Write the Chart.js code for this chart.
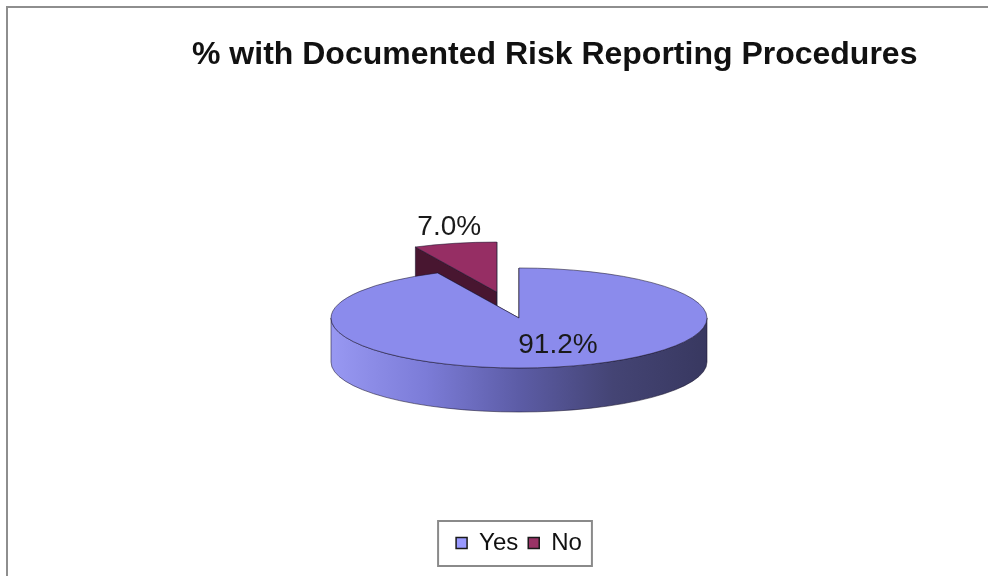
<!DOCTYPE html>
<html><head><meta charset="utf-8">
<script src="https://cdn.jsdelivr.net/npm/chart.js@4.4.1/dist/chart.umd.min.js"></script>
<style>
html,body{margin:0;padding:0;background:#fff;overflow:hidden;}
#wrap{position:relative;width:988px;height:576px;overflow:hidden;}
#frame{position:absolute;left:6px;top:6px;width:1200px;height:800px;border:2px solid #8e8e8e;box-sizing:border-box;}
canvas{position:absolute;left:0;top:0;}
</style></head><body>
<div id="wrap"><div id="frame"></div><canvas id="c" width="988" height="576"></canvas></div>
<script>
// ---- data ----
const TITLE = '% with Documented Risk Reporting Procedures';
const categories = ['Yes', 'No'];
const percentValues = [91.2, 7.0];
const explodeBy = [0, 100];

// ---- styles ----
const LEGEND_COLORS = ['#9999FF', '#993366'];
const SHADES = [
  {top: 'rgb(139,139,236)', face: 'rgb(60,60,120)',
   wall: ['rgb(152,152,242)', 'rgb(124,124,216)', 'rgb(92,92,166)', 'rgb(68,68,116)', 'rgb(56,56,96)']},
  {top: 'rgb(150,46,100)', face: 'rgb(72,22,48)',
   wall: ['rgb(160,60,110)', 'rgb(120,40,80)', 'rgb(90,28,60)', 'rgb(70,20,46)', 'rgb(60,18,40)']}
];
const TILT = 0.266;
const DEPTH = 44;
const LABEL_RADIUS = [0.55, 1.33];
const LABEL_NUDGE = [16, 8];
const FONT = '"Liberation Sans", Arial, sans-serif';

function frontRanges(s, e) {
  const out = [];
  for (let n = -2; n <= 2; n++) {
    const a = Math.max(s, n * 2 * Math.PI), b = Math.min(e, n * 2 * Math.PI + Math.PI);
    if (b > a) out.push([a, b]);
  }
  return out;
}

function geom(arc) {
  const p = arc.getProps(['x', 'y', 'startAngle', 'endAngle', 'outerRadius'], true);
  const off = arc.options.offset || 0;
  const mid = (p.startAngle + p.endAngle) / 2;
  return {s: p.startAngle, e: p.endAngle, r: p.outerRadius, mid,
    cx: p.x + Math.cos(mid) * off, cy: p.y + Math.sin(mid) * off * TILT};
}

const pie3d = {
  id: 'pie3d',
  beforeDatasetsDraw(chart) {
    const ctx = chart.ctx;
    const items = chart.getDatasetMeta(0).data.map((arc, i) => ({arc, i, g: geom(arc)}));
    items.sort((p, q) => Math.sin(p.g.mid) - Math.sin(q.g.mid));
    for (const {i, g} of items) {
      const {s, e, r, cx, cy} = g;
      const ry = r * TILT;
      const sh = SHADES[i];
      ctx.save();
      ctx.lineWidth = 1;
      ctx.lineJoin = 'round';
      ctx.strokeStyle = 'rgba(25,20,45,0.55)';
      const grad = ctx.createLinearGradient(cx - r, 0, cx + r, 0);
      sh.wall.forEach((c, j) => grad.addColorStop(j / (sh.wall.length - 1), c));
      for (const [a, b] of frontRanges(s, e)) {
        ctx.beginPath();
        ctx.ellipse(cx, cy, r, ry, 0, a, b);
        ctx.ellipse(cx, cy + DEPTH, r, ry, 0, b, a, true);
        ctx.closePath();
        ctx.fillStyle = grad;
        ctx.fill();
        ctx.stroke();
      }
      for (const ang of [s, e]) {
        const ex = cx + Math.cos(ang) * r, ey = cy + Math.sin(ang) * ry;
        ctx.beginPath();
        ctx.moveTo(cx, cy); ctx.lineTo(ex, ey); ctx.lineTo(ex, ey + DEPTH); ctx.lineTo(cx, cy + DEPTH);
        ctx.closePath();
        ctx.fillStyle = sh.face;
        ctx.fill();
        ctx.stroke();
      }
      ctx.beginPath();
      ctx.moveTo(cx, cy);
      ctx.ellipse(cx, cy, r, ry, 0, s, e);
      ctx.closePath();
      ctx.fillStyle = sh.top;
      ctx.fill();
      ctx.stroke();
      ctx.restore();
    }
    return false;
  },
  afterDraw(chart) {
    const ctx = chart.ctx;
    const values = chart.data.datasets[0].data;
    ctx.save();
    // title
    ctx.font = 'bold 32px ' + FONT;
    ctx.fillStyle = '#111';
    ctx.textAlign = 'left';
    ctx.textBaseline = 'alphabetic';
    ctx.fillText(TITLE, 192, 64);
    // data labels
    ctx.font = '28px ' + FONT;
    ctx.fillStyle = '#1a1a1a';
    ctx.textAlign = 'center';
    ctx.textBaseline = 'middle';
    chart.getDatasetMeta(0).data.forEach((arc, i) => {
      const g = geom(arc);
      const rho = g.r * LABEL_RADIUS[i];
      const lx = g.cx + Math.cos(g.mid) * rho + LABEL_NUDGE[i];
      const ly = g.cy + Math.sin(g.mid) * rho * TILT;
      ctx.fillText(values[i].toFixed(1) + '%', lx, ly);
    });
    // legend frame
    const hb = chart.legend.legendHitBoxes;
    if (hb && hb.length) {
      const left = Math.min(...hb.map(h => h.left)) - 18;
      const right = Math.max(...hb.map(h => h.left + h.width)) + 10;
      const top = Math.min(...hb.map(h => h.top)) - 10;
      const bottom = Math.max(...hb.map(h => h.top + h.height)) + 11;
      ctx.strokeStyle = '#8a8a8a';
      ctx.lineWidth = 2;
      ctx.strokeRect(left, top, right - left, bottom - top);
    }
    ctx.restore();
  }
};

new Chart(document.getElementById('c'), {
  type: 'pie',
  data: {
    labels: categories,
    datasets: [{
      data: percentValues,
      backgroundColor: LEGEND_COLORS,
      borderColor: '#1a1a1a',
      borderWidth: 1.5,
      offset: explodeBy,
      radius: 188
    }]
  },
  options: {
    responsive: false,
    animation: false,
    events: [],
    devicePixelRatio: 1,
    layout: {padding: {left: 60, right: 10, top: 115, bottom: 11}},
    plugins: {
      title: {display: false},
      legend: {
        position: 'bottom',
        labels: {
          boxWidth: 11, boxHeight: 11, padding: 10, color: '#111',
          font: {family: FONT, size: 24}
        }
      },
      tooltip: {enabled: false}
    }
  },
  plugins: [pie3d]
});
</script>
</body></html>
